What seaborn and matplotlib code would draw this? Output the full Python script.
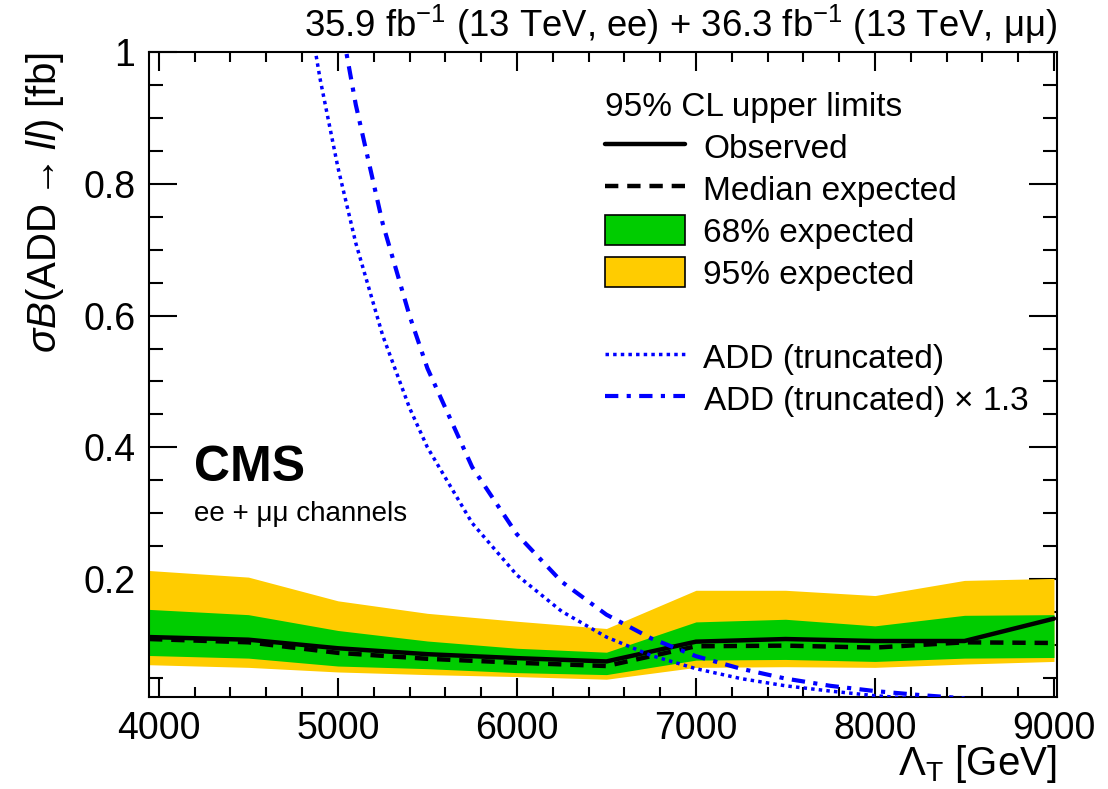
import matplotlib
matplotlib.use("Agg")
import matplotlib.pyplot as plt
from matplotlib.lines import Line2D
from matplotlib.patches import Patch
from matplotlib.ticker import MultipleLocator, FuncFormatter
import numpy as np
import seaborn as sns

# limits vs Lambda_T
lam = [3945, 4500, 5000, 5500, 6000, 6500, 7000, 7500, 8000, 8500, 9000]
observed = [0.112, 0.108, 0.095, 0.086, 0.080, 0.075, 0.105, 0.109, 0.106, 0.106, 0.140]
expected = [0.109, 0.104, 0.088, 0.079, 0.073, 0.068, 0.098, 0.099, 0.096, 0.104, 0.103]
green_hi = [0.154, 0.146, 0.122, 0.106, 0.095, 0.089, 0.135, 0.139, 0.129, 0.145, 0.146]
green_lo = [0.084, 0.080, 0.068, 0.064, 0.058, 0.055, 0.077, 0.078, 0.075, 0.080, 0.081]
yellow_hi = [0.213, 0.203, 0.167, 0.148, 0.136, 0.125, 0.183, 0.183, 0.175, 0.198, 0.201]
yellow_lo = [0.070, 0.066, 0.059, 0.055, 0.052, 0.048, 0.066, 0.067, 0.066, 0.071, 0.075]

# ADD signal curves
add_lam = [4850, 4900, 5000, 5100, 5250, 5400, 5500, 5750, 6000, 6250, 6500, 6750,
           7000, 7250, 7500, 7750, 8000, 8250, 8500]
add_trunc = [1.04, 0.96, 0.825, 0.71, 0.57, 0.46, 0.40, 0.285, 0.206, 0.151, 0.112, 0.084,
             0.064, 0.049, 0.038, 0.030, 0.023, 0.018, 0.015]
add_trunc13 = [1.35, 1.25, 1.07, 0.92, 0.74, 0.60, 0.52, 0.37, 0.268, 0.196, 0.146, 0.110,
               0.083, 0.064, 0.049, 0.038, 0.030, 0.024, 0.019]

sns.set_style("ticks")
plt.rcParams['font.family'] = ['Liberation Sans', 'DejaVu Sans']
plt.rcParams['mathtext.fontset'] = 'custom'
plt.rcParams['mathtext.rm'] = 'Liberation Sans'
plt.rcParams['mathtext.it'] = 'Liberation Sans:italic'
plt.rcParams['mathtext.bf'] = 'Liberation Sans:bold'
plt.rcParams['text.color'] = 'black'
plt.rcParams['axes.labelcolor'] = 'black'
plt.rcParams['xtick.color'] = 'black'
plt.rcParams['ytick.color'] = 'black'
plt.rcParams['axes.edgecolor'] = 'black'

fig = plt.figure(figsize=(11.08, 7.89), dpi=100)
ax = fig.add_axes([0.1345, 0.1166, 0.8195, 0.8174])

green = '#00cc00'
yellow = '#ffcc00'
blue = '#0000ff'
dot_style = (0, (1, 1.2))
dashdot_style = (0, (3.2, 2, 1, 2))

ax.fill_between(lam, yellow_lo, yellow_hi, color=yellow, lw=0, zorder=1)
ax.fill_between(lam, green_lo, green_hi, color=green, lw=0, zorder=2)

sns.lineplot(x=lam, y=expected, ax=ax, color='black', linewidth=3.2,
             linestyle=(0, (3, 2)), zorder=3)
sns.lineplot(x=lam, y=observed, ax=ax, color='black', linewidth=3.2, zorder=4)
sns.lineplot(x=add_lam, y=add_trunc, ax=ax, color=blue, linewidth=2.5,
             linestyle=dot_style, zorder=5)
sns.lineplot(x=add_lam, y=add_trunc13, ax=ax, color=blue, linewidth=3,
             linestyle=dashdot_style, zorder=5)

ax.set_xlim(3945, 9017)
ax.set_ylim(0.021, 1.0)
ax.xaxis.set_major_locator(MultipleLocator(1000))
ax.xaxis.set_minor_locator(MultipleLocator(200))
ax.yaxis.set_major_locator(MultipleLocator(0.2))
ax.yaxis.set_minor_locator(MultipleLocator(0.05))
ax.yaxis.set_major_formatter(FuncFormatter(lambda v, p: '%g' % round(v, 2)))
ax.tick_params(which='both', direction='in', top=True, right=True, width=1.5,
               labelsize=27, pad=10)
ax.tick_params(axis='x', which='major', length=14)
ax.tick_params(axis='x', which='minor', length=7)
ax.tick_params(axis='y', which='major', length=20)
ax.tick_params(axis='y', which='minor', length=10)
for s in ax.spines.values():
    s.set_linewidth(1.5)

ax.set_xlabel(r'$\Lambda_{\mathrm{T}}$ [GeV]', fontsize=29, loc='right', labelpad=-3)
ax.set_ylabel(r'$\sigma B(\mathrm{ADD} \rightarrow ll)$ [fb]', fontsize=29, loc='top',
              labelpad=12)

ax.text(1.0, 1.008, r'35.9 fb$^{-1}$ (13 TeV, ee) + 36.3 fb$^{-1}$ (13 TeV, μμ)',
        transform=ax.transAxes, ha='right', va='bottom', fontsize=26.3)
ax.text(0.049, 0.355, 'CMS', transform=ax.transAxes, fontsize=36, fontweight='bold',
        ha='left', va='center')
ax.text(0.049, 0.283, 'ee + μμ channels', transform=ax.transAxes, fontsize=20,
        ha='left', va='center')

handles = [
    Line2D([], [], color='black', lw=3.2),
    Line2D([], [], color='black', lw=3.2, linestyle=(0, (3, 2))),
    Patch(facecolor=green, edgecolor='black', lw=1.2),
    Patch(facecolor=yellow, edgecolor='black', lw=1.2),
    Line2D([], [], color='none'),
    Line2D([], [], color=blue, lw=2.5, linestyle=dot_style),
    Line2D([], [], color=blue, lw=3, linestyle=dashdot_style),
]
labels = ['Observed', 'Median expected', '68% expected', '95% expected', '',
          'ADD (truncated)', r'ADD (truncated) $\times$ 1.3']
ax.legend(handles, labels, title='95% CL upper limits', title_fontsize=24,
          fontsize=24, frameon=False, loc='upper left',
          bbox_to_anchor=(0.477, 0.975), handlelength=2.4, handleheight=1.0,
          handletextpad=0.54, labelspacing=0.26, alignment='left', borderpad=0.2)

fig.savefig('out.png', dpi=100)
